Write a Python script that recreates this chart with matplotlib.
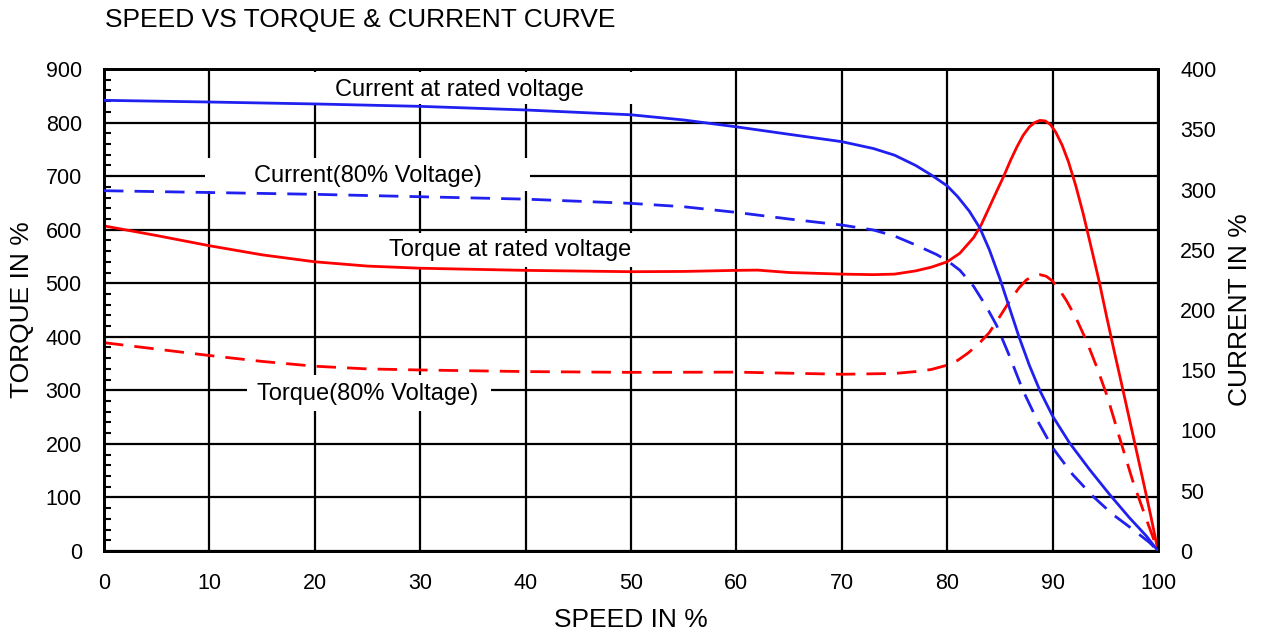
import matplotlib
matplotlib.use("Agg")
import matplotlib.pyplot as plt
from matplotlib.patches import Rectangle

plt.rcParams['font.family'] = ['Liberation Sans', 'DejaVu Sans']

# ---------------- data ----------------
speed_cur_rated = [0, 10, 20, 30, 40, 50, 55, 60, 65, 70, 73, 75, 77, 78.5, 80, 81, 82.1, 83.1, 84.0,
                   85.0, 85.9, 86.8, 87.8, 88.8, 90, 91.6, 93.5, 95.4, 97.3, 98.9, 100]
cur_rated = [374, 372.6, 371, 369, 366, 362, 357.7, 352, 345.8, 339.7, 334, 328.5, 320, 312, 303,
             294, 282, 268, 250, 226, 202, 178, 154, 133, 112, 89.8, 67.7, 47, 27.5, 12.4, 0]

speed_cur_80 = [0, 10, 20, 30, 40, 50, 55, 60, 65, 70, 73, 75, 77, 79, 80, 81.2, 82.5, 83.7, 84.7,
                85.9, 87.2, 88.5, 90, 91.9, 93.8, 95.7, 97.6, 99.2, 100]
cur_80 = [299, 297.5, 296, 294, 292, 288.5, 285.7, 281, 275.5, 270.5, 266.4, 261.4, 254, 246, 241,
          233, 219.7, 203, 187, 162, 133, 109.2, 85.7, 63.5, 45.6, 30.4, 18, 7, 0]

speed_trq_rated = [0, 5, 10, 15, 20, 25, 30, 40, 50, 55, 60, 62, 65, 70, 73, 75, 77, 78.5, 80, 81.2,
                   82.5, 83.2, 84.0, 84.7, 85.3, 86.0, 86.6, 87.2, 87.8, 88.3, 88.8, 89.3, 89.8,
                   90.3, 90.9, 91.5, 92.2, 92.9, 93.6, 94.4, 95.1, 95.8, 96.5, 97.2, 97.9, 98.6,
                   99.3, 100]
trq_rated = [607, 589, 570, 553, 540, 532, 528, 524, 521.5, 522, 524, 524.5, 520, 517, 516, 517, 523,
             530, 540, 556, 585, 608, 642, 672, 697, 729, 754, 776, 792, 800, 804, 803, 796,
             782, 758, 727, 682, 630, 572, 505, 440, 377, 316, 254, 192, 130, 67, 0]

speed_trq_80 = [0, 5, 10, 15, 20, 25, 30, 40, 50, 60, 65, 70, 75, 77, 78.5, 80, 81, 82, 83, 84, 85,
                86, 86.8, 87.5, 88.1, 88.8, 89.4, 90, 90.6, 91.3, 92.2, 93.2, 94.2, 95.2, 96.3,
                97.6, 98.9, 100]
trq_80 = [389, 377, 365, 354, 345, 340, 338, 335, 333.6, 334, 332, 330, 331.5, 335, 339, 347, 356,
          370, 387, 408, 438, 469, 491, 506, 513, 516, 513, 504, 489, 468, 436, 393, 343, 288, 215,
          131, 59, 0]

x_ticks = list(range(0, 101, 10))
torque_ticks = list(range(0, 901, 100))
current_ticks = list(range(0, 401, 50))

RED = '#FF0000'
BLUE = '#2020F0'

# ---------------- figure ----------------
fig = plt.figure(figsize=(12.63, 6.37), dpi=100)
ax = fig.add_axes([104 / 1263, 1 - 551 / 637, (1158 - 104) / 1263, (551 - 69) / 637])
ax2 = ax.twinx()

ax.set_xlim(0, 100)
ax.set_ylim(0, 900)
ax2.set_ylim(0, 400)
ax.set_xticks(x_ticks)
ax.set_yticks(torque_ticks)
ax.set_yticks(range(0, 901, 20), minor=True)
ax2.set_yticks(current_ticks)

ax.set_axisbelow(True)
ax.grid(True, which='major', color='black', lw=1.6)
ax.grid(False, which='minor')

for a in (ax, ax2):
    for s in a.spines.values():
        s.set_linewidth(2.0)
        s.set_color('black')

ax.tick_params(axis='both', which='major', length=0, labelsize=15.5)
ax.tick_params(axis='y', which='major', pad=16)
ax.tick_params(axis='x', which='major', pad=16)
ax.tick_params(axis='y', which='minor', direction='in', length=5, width=1.5, left=True)
ax.tick_params(axis='x', which='minor', bottom=False)
ax2.tick_params(axis='y', which='major', length=0, labelsize=15.5, pad=16)

# text boxes (white backgrounds hiding grid lines)
boxes = [
    (19.6, 834.6, 51.0 - 19.6, 894 - 834.6),
    (9.6, 672, 40.4 - 9.6, 733.8 - 672),
    (26.2, 530, 50.9 - 26.2, 593.7 - 530),
    (13.6, 261.4, 36.7 - 13.6, 328.6 - 261.4),
]
for (bx, by, bw, bh) in boxes:
    ax.add_patch(Rectangle((bx, by), bw, bh, facecolor='white', edgecolor='none', zorder=2.5))

ax.text(33.7, 860.7, 'Current at rated voltage', fontsize=17, ha='center', va='center', zorder=2.6)
ax.text(25.0, 700, 'Current(80% Voltage)', fontsize=17, ha='center', va='center', zorder=2.6)
ax.text(38.5, 562, 'Torque at rated voltage', fontsize=17, ha='center', va='center', zorder=2.6)
ax.text(25.0, 293, 'Torque(80% Voltage)', fontsize=17, ha='center', va='center', zorder=2.6)

# curves
ax.plot(speed_trq_rated, trq_rated, color=RED, lw=2.0, zorder=3, solid_joinstyle='round')
ax.plot(speed_trq_80, trq_80, color=RED, lw=2.0, dashes=(7, 4), zorder=3)
ax2.plot(speed_cur_rated, cur_rated, color=BLUE, lw=2.0, zorder=3, solid_joinstyle='round')
ax2.plot(speed_cur_80, cur_80, color=BLUE, lw=2.0, dashes=(7, 4), zorder=3)

# titles / labels
fig.text(105 / 1263, 1 - 20 / 637, 'SPEED VS TORQUE & CURRENT CURVE', fontsize=19,
         ha='left', va='center')
fig.text(631 / 1263, 1 - 620 / 637, 'SPEED IN %', fontsize=19, ha='center', va='center')
fig.text(22 / 1263, 1 - 310 / 637, 'TORQUE IN %', fontsize=19, ha='center', va='center',
         rotation=90)
fig.text(1240 / 1263, 1 - 310 / 637, 'CURRENT IN %', fontsize=19, ha='center', va='center',
         rotation=90)

fig.savefig('out.png', dpi=100)
